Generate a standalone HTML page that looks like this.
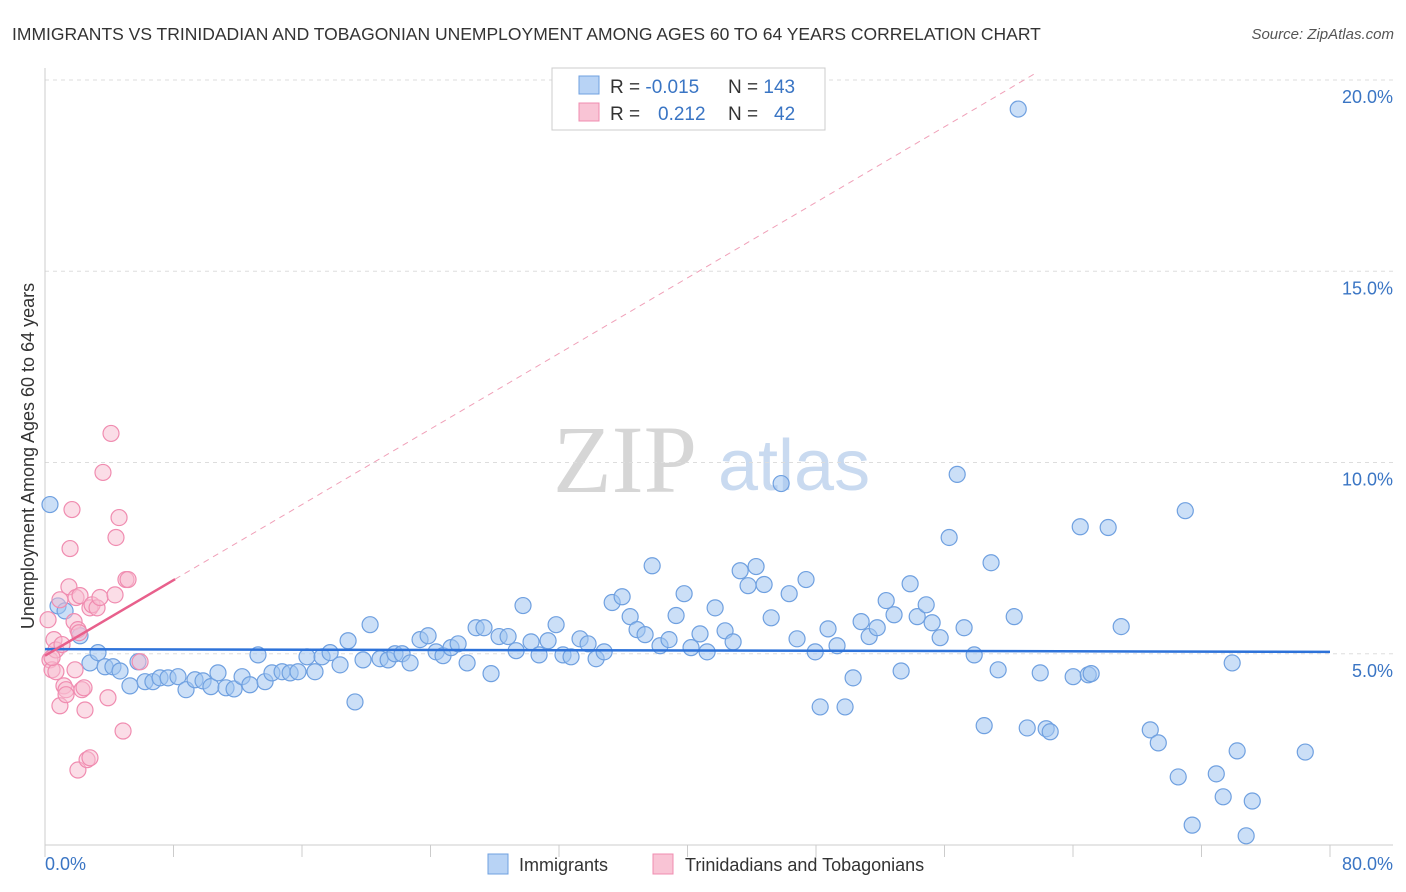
<!DOCTYPE html>
<html><head><meta charset="utf-8">
<style>
body{margin:0;background:#fff;font-family:"Liberation Sans",sans-serif;}
svg{display:block}
</style></head>
<body>
<svg id="chart" width="1406" height="892" xmlns="http://www.w3.org/2000/svg">
<text x="12" y="40" font-size="17.5" fill="#333">IMMIGRANTS VS TRINIDADIAN AND TOBAGONIAN UNEMPLOYMENT AMONG AGES 60 TO 64 YEARS CORRELATION CHART</text>
<text x="1394" y="39" font-size="15" fill="#555" font-style="italic" text-anchor="end">Source: ZipAtlas.com</text>
<g>
<text x="553" y="492" font-family="Liberation Serif" font-size="96" fill="#d6d6d6">ZIP</text>
<text x="718" y="490" font-size="72" fill="#c9daf0">atlas</text>
</g>
<g id="grid"></g>
<g id="axes"></g>
<g id="trends"></g>
<g id="points"></g>
<text transform="translate(34,456) rotate(-90)" font-size="18" fill="#333" text-anchor="middle">Unemployment Among Ages 60 to 64 years</text>
<g>
<rect x="552" y="68" width="273" height="62" fill="#fff" stroke="#ccc"/>
<rect x="579" y="76" width="20" height="18" fill="#b8d3f5" stroke="#6fa0e0"/>
<rect x="579" y="103" width="20" height="18" fill="#f9c4d5" stroke="#f08cb0"/>
<text x="610" y="93" font-size="19" fill="#333">R = <tspan fill="#3a75c4">-0.015</tspan></text>
<text x="728" y="93" font-size="19" fill="#333">N = <tspan fill="#3a75c4">143</tspan></text>
<text x="610" y="120" font-size="19" fill="#333">R = <tspan fill="#3a75c4" x="658">0.212</tspan></text>
<text x="728" y="120" font-size="19" fill="#333">N = <tspan fill="#3a75c4" x="774">42</tspan></text>
</g>
<g>
<rect x="488" y="854" width="20" height="20" fill="#b8d3f5" stroke="#6fa0e0"/>
<text x="519" y="871" font-size="18" fill="#333">Immigrants</text>
<rect x="653" y="854" width="20" height="20" fill="#f9c4d5" stroke="#f08cb0"/>
<text x="685" y="871" font-size="18" fill="#333">Trinidadians and Tobagonians</text>
</g>
</svg>
<script>
const blueX=[0.31,0.81,1.25,2.18,2.80,3.30,3.74,4.23,4.67,5.29,5.79,6.23,6.72,7.16,7.66,8.28,8.78,9.34,9.84,10.33,10.77,11.27,11.77,12.27,12.76,13.26,13.70,14.13,14.76,15.26,15.75,16.31,16.81,17.25,17.75,18.37,18.87,19.30,19.80,20.24,20.86,21.36,21.79,22.23,22.73,23.35,23.85,24.35,24.78,25.28,25.72,26.28,26.84,27.33,27.77,28.27,28.83,29.33,29.76,30.26,30.76,31.32,31.82,32.25,32.75,33.31,33.81,34.31,34.81,35.31,35.93,36.43,36.86,37.36,37.80,38.29,38.85,39.29,39.79,40.22,40.78,41.22,41.72,42.34,42.84,43.28,43.77,44.27,44.77,45.21,45.83,46.33,46.82,47.38,47.95,48.26,48.75,49.31,49.81,50.31,50.81,51.31,51.81,52.37,52.86,53.30,53.86,54.30,54.86,55.23,55.73,56.29,56.79,57.22,57.85,58.47,58.90,59.34,60.34,60.59,61.15,61.96,62.33,62.58,64.01,64.45,64.95,65.13,66.19,67.00,68.81,69.31,70.55,70.99,71.42,72.92,73.35,73.91,74.22,74.78,75.16,78.46];
const blueY=[8.90,6.25,6.12,5.47,4.76,5.03,4.66,4.66,4.55,4.16,4.79,4.27,4.27,4.37,4.37,4.40,4.06,4.32,4.29,4.14,4.50,4.11,4.08,4.40,4.19,4.97,4.27,4.50,4.53,4.50,4.53,4.92,4.53,4.92,5.03,4.71,5.34,3.74,4.84,5.76,4.87,4.84,5.00,5.00,4.76,5.37,5.47,5.05,4.95,5.16,5.26,4.76,5.68,5.68,4.48,5.45,5.45,5.08,6.26,5.31,4.97,5.34,5.76,4.97,4.92,5.39,5.26,4.87,5.05,6.34,6.49,5.97,5.63,5.50,7.30,5.21,5.37,6.00,6.57,5.16,5.52,5.05,6.20,5.60,5.31,7.17,6.78,7.28,6.81,5.94,9.45,6.57,5.39,6.94,5.05,3.61,5.65,5.21,3.61,4.37,5.84,5.45,5.68,6.39,6.02,4.55,6.83,5.97,6.28,5.81,5.42,8.04,9.69,5.68,4.97,3.12,7.38,4.58,5.97,19.24,3.06,4.50,3.04,2.96,4.40,8.32,4.45,4.48,8.30,5.71,3.01,2.67,1.78,8.74,0.52,1.86,1.26,4.76,2.46,0.24,1.15,2.43];
const pinkX=[0.19,0.31,0.44,0.56,0.68,0.93,1.06,1.18,1.31,1.49,1.56,1.68,1.81,1.93,2.05,2.05,2.18,2.30,2.43,2.49,2.62,2.80,2.93,3.24,3.42,3.61,3.92,4.11,4.36,4.42,4.61,4.86,5.04,5.17,5.92,0.93,1.31,0.68,0.44,1.87,2.12,2.80];
const pinkY=[5.89,4.84,4.58,5.37,5.10,6.41,5.24,4.16,4.06,6.75,7.75,8.77,5.84,6.47,5.63,1.96,6.52,4.06,4.11,3.53,2.23,6.20,6.28,6.20,6.47,9.74,3.85,10.76,6.54,8.04,8.56,2.98,6.94,6.94,4.79,3.64,3.93,4.53,4.90,4.58,5.55,2.28];
const blueTrendX=[0,80];
const blueTrendY=[5.12,5.05];
const pinkTrendX=[0,8.1];
const pinkTrendY=[4.95,6.95];
const yTicks=[5,10,15,20];
const yTickLabels=["5.0%","10.0%","15.0%","20.0%"];
const xTicks=[0,8,16,24,32,40,48,56,64,72,80];

const NS="http://www.w3.org/2000/svg";
const X0=45,X1=1330,Y0=845,YT=80;
function sx(v){return X0+(v/80)*(X1-X0);}
function sy(v){return Y0-(v/20)*(Y0-YT);}
function mk(tag,attrs,parent){const e=document.createElementNS(NS,tag);for(const k in attrs)e.setAttribute(k,attrs[k]);parent.appendChild(e);return e;}
const grid=document.getElementById('grid'),axes=document.getElementById('axes'),trends=document.getElementById('trends'),pts=document.getElementById('points');
yTicks.forEach((t,i)=>{
  const l=mk('line',{x1:X0,x2:1393,y1:sy(t),y2:sy(t),stroke:'#ddd','stroke-dasharray':'4,4'},grid);
  
  
  const tx=mk('text',{x:1393,y:sy(t)+23,'font-size':18,fill:'#3a75c4','text-anchor':'end'},axes);
  tx.textContent=yTickLabels[i];
  
  
});
const ya=mk('line',{x1:X0,x2:X0,y1:68,y2:Y0,stroke:'#ccc'},axes);


const xa=mk('line',{x1:X0,x2:1393,y1:Y0,y2:Y0,stroke:'#ccc'},axes);


xTicks.forEach(t=>{
  const l=mk('line',{x1:sx(t),x2:sx(t),y1:Y0,y2:Y0+12,stroke:'#ccc'},axes);
  
  
});
const xl0=mk('text',{x:45,y:870,'font-size':18,fill:'#3a75c4'},axes);xl0.textContent='0.0%';


const xl1=mk('text',{x:1393,y:870,'font-size':18,fill:'#3a75c4','text-anchor':'end'},axes);xl1.textContent='80.0%';



blueX.forEach((v,i)=>{
  const c=mk('circle',{cx:sx(v),cy:sy(blueY[i]),r:8,fill:'rgba(160,196,240,0.55)',stroke:'#6fa0e0','stroke-width':1.2},pts);
  
  
});
pinkX.forEach((v,i)=>{
  const c=mk('circle',{cx:sx(v),cy:sy(pinkY[i]),r:8,fill:'rgba(248,188,208,0.5)',stroke:'#f08cb0','stroke-width':1.2},pts);
  
  
});
const slope=(pinkTrendY[1]-pinkTrendY[0])/(pinkTrendX[1]-pinkTrendX[0]);
const xEnd=Math.min(80,(20.2-pinkTrendY[0])/slope);
const dl=mk('line',{x1:sx(pinkTrendX[1]),y1:sy(pinkTrendY[1]),x2:sx(xEnd),y2:sy(pinkTrendY[0]+slope*xEnd),stroke:'#f0a0b8','stroke-width':1,'stroke-dasharray':'6,5'},trends);


const bt=mk('line',{x1:sx(blueTrendX[0]),y1:sy(blueTrendY[0]),x2:sx(blueTrendX[1]),y2:sy(blueTrendY[1]),stroke:'#2d72d9','stroke-width':2.5},pts);


const pt=mk('line',{x1:sx(pinkTrendX[0]),y1:sy(pinkTrendY[0]),x2:sx(pinkTrendX[1]),y2:sy(pinkTrendY[1]),stroke:'#e8608c','stroke-width':2.5},pts);


</script>
</body></html>
